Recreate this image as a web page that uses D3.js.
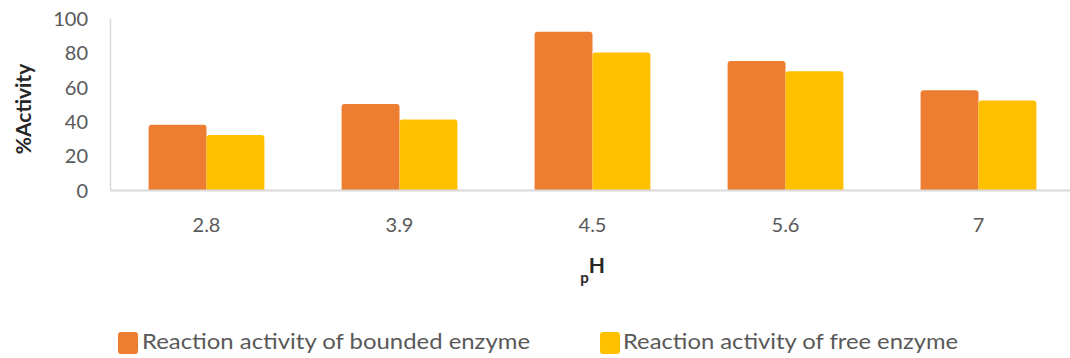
<!DOCTYPE html>
<html>
<head>
<meta charset="utf-8">
<script src="https://cdn.jsdelivr.net/npm/d3@7"></script>
<style>
  html, body { margin: 0; padding: 0; background: #fff; }
  svg { display: block; }
  text { font-family: Lato, "Open Sans", sans-serif; }
</style>
</head>
<body>
<svg id="chart" width="1070" height="358"></svg>
<script>
const categories = ["2.8", "3.9", "4.5", "5.6", "7"];
const seriesNames = ["Reaction activity of bounded enzyme", "Reaction activity of free enzyme"];
const bounded = [38, 50, 92, 75, 58];
const free = [32, 41, 80, 69, 52];
const yTicks = [0, 20, 40, 60, 80, 100];
const colors = ["#ED7D31", "#FFC000"];

const svg = d3.select("#chart");
const W = 1070, H = 358;
const plot = { left: 110, right: 1075, top: 18, bottom: 190 };

const x = d3.scaleBand().domain(categories).range([plot.left, plot.right])
  .paddingInner(0.4).paddingOuter(0.2);
const x1 = d3.scaleBand().domain([0, 1]).range([0, x.bandwidth()]).padding(0);
const y = d3.scaleLinear().domain([0, 100]).range([plot.bottom, plot.top]);

// Y axis (line + labels)
const yAxis = d3.axisLeft(y).tickValues(yTicks).tickSize(0).tickPadding(22);
const gy = svg.append("g").attr("transform", `translate(${plot.left},0)`).call(yAxis);
gy.select(".domain").attr("stroke", "#d9d9d9").attr("stroke-width", 1.5);
gy.selectAll("text").attr("fill", "#595959").style("font-size", "20px")
  .attr("dy", "0.36em");

// Bars
function topRounded(x0, y0, w, h, r) {
  r = Math.min(r, h, w / 2);
  return `M${x0},${y0 + h}V${y0 + r}Q${x0},${y0} ${x0 + r},${y0}H${x0 + w - r}Q${x0 + w},${y0} ${x0 + w},${y0 + r}V${y0 + h}Z`;
}
const data = categories.map((c, i) => ({ c, vals: [bounded[i], free[i]] }));
const groups = svg.append("g").selectAll("g").data(data).join("g")
  .attr("transform", d => `translate(${x(d.c)},0)`);
groups.selectAll("path").data(d => d.vals.map((v, k) => ({ v, k }))).join("path")
  .attr("d", d => topRounded(x1(d.k), y(d.v), x1.bandwidth(), y(0) - y(d.v), 3))
  .attr("fill", d => colors[d.k]);

// X axis
const xAxis = d3.axisBottom(x).tickSize(0).tickPadding(28);
const gx = svg.append("g").attr("transform", `translate(0,${plot.bottom})`).call(xAxis);
gx.select(".domain").attr("stroke", "#d9d9d9").attr("stroke-width", 2);
gx.selectAll("text").attr("fill", "#595959").style("font-size", "20px");

// Axis titles
svg.append("text")
  .attr("transform", `translate(31,109) rotate(-90)`)
  .attr("text-anchor", "middle")
  .attr("fill", "#262626")
  .style("font-size", "21px").style("font-weight", "bold")
  .text("%Activity");

const phTitle = svg.append("text")
  .attr("x", x("4.5") + x.bandwidth() / 2)
  .attr("y", 273)
  .attr("text-anchor", "middle")
  .attr("fill", "#262626")
  .style("font-weight", "bold");
phTitle.append("tspan").attr("dy", 10).style("font-size", "15px").text("p");
phTitle.append("tspan").attr("dy", -10).style("font-size", "21px").text("H");

// Legend
const legendItems = [
  { name: seriesNames[0], color: colors[0], sx: 118, tx: 142, tw: 388 },
  { name: seriesNames[1], color: colors[1], sx: 600, tx: 623, tw: 335 }
];
const lg = svg.append("g");
legendItems.forEach(it => {
  lg.append("rect").attr("x", it.sx).attr("y", 332).attr("width", 20).attr("height", 22)
    .attr("rx", 3).attr("fill", it.color);
  lg.append("text").attr("x", it.tx).attr("y", 349)
    .attr("fill", "#595959").style("font-size", "21px")
    .attr("textLength", it.tw).attr("lengthAdjust", "spacingAndGlyphs")
    .text(it.name);
});
</script>
</body>
</html>
